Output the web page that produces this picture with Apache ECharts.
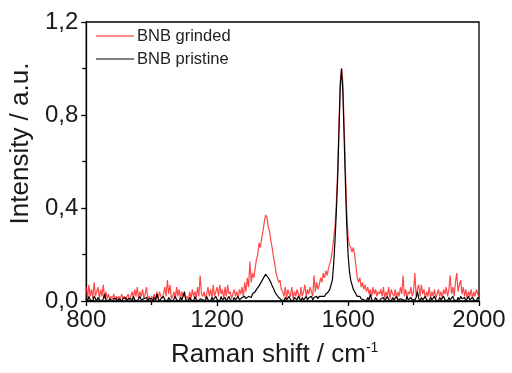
<!DOCTYPE html>
<html><head><meta charset="utf-8">
<script src="https://cdn.jsdelivr.net/npm/echarts@6/dist/echarts.min.js"></script>
<style>html,body{margin:0;padding:0;background:#fff}#c{width:512px;height:373px}</style>
</head><body><div id="c"></div>
<script>
// Wavenumber sampling: 800..2000 cm-1, step 4
const startWavenumber = 800;
const stepWavenumber = 4;
const seriesNames = ['BNB grinded', 'BNB pristine'];
const xTicks = [800, 1200, 1600, 2000];
const yTicks = ['0,0', '0,4', '0,8', '1,2'];

// BNB grinded intensities (rows of 25 points = 100 cm-1)
const grinded = [
  0.06,0.01,0.07,0.02,0.05,0.01,0.08,0.02,0.04,0.06,0.01,0.05,0.02,0.07,0.01,0.04,0.01,0.03,0.005,0.02,0.01,0.03,0.005,0.02,0.01, // 800
  0.02,0.005,0.03,0.01,0.02,0.005,0.01,0.03,0.005,0.02,0.04,0.01,0.05,0.02,0.06,0.01,0.04,0.02,0.05,0.01,0.03,0.06,0.01,0.02,0.005, // 900
  0.02,0.01,0.03,0.005,0.04,0.01,0.04,0.02,0.01,0.03,0.06,0.02,0.09,0.03,0.07,0.01,0.02,0.04,0.01,0.06,0.02,0.05,0.01,0.04,0.02, // 1000
  0.03,0.01,0.02,0.005,0.04,0.01,0.05,0.02,0.04,0.01,0.06,0.02,0.11,0.03,0.02,0.04,0.01,0.03,0.06,0.02,0.05,0.01,0.07,0.02,0.04, // 1100
  0.06,0.02,0.07,0.03,0.05,0.01,0.06,0.02,0.07,0.03,0.04,0.01,0.03,0.05,0.02,0.04,0.01,0.05,0.03,0.06,0.02,0.08,0.04,0.10,0.06, // 1200
  0.17,0.08,0.12,0.10,0.14,0.18,0.20,0.25,0.23,0.27,0.30,0.34,0.37,0.36,0.32,0.30,0.26,0.23,0.19,0.16,0.12,0.10,0.08,0.09,0.05, // 1300
  0.04,0.02,0.06,0.01,0.05,0.03,0.02,0.06,0.01,0.04,0.02,0.05,0.03,0.01,0.06,0.02,0.04,0.07,0.02,0.05,0.03,0.06,0.04,0.02,0.11, // 1400
  0.04,0.08,0.05,0.07,0.10,0.08,0.12,0.10,0.13,0.11,0.14,0.16,0.18,0.22,0.27,0.32,0.42,0.56,0.76,0.94,1.00,0.94,0.76,0.56,0.38, // 1500
  0.28,0.24,0.23,0.21,0.23,0.20,0.15,0.10,0.08,0.10,0.06,0.08,0.05,0.07,0.04,0.06,0.03,0.05,0.02,0.06,0.03,0.05,0.02,0.04,0.03, // 1600
  0.05,0.02,0.06,0.01,0.04,0.02,0.06,0.01,0.05,0.03,0.02,0.05,0.01,0.04,0.02,0.06,0.03,0.11,0.02,0.05,0.01,0.04,0.03,0.06,0.02, // 1700
  0.04,0.12,0.02,0.05,0.07,0.02,0.07,0.03,0.05,0.01,0.04,0.02,0.06,0.01,0.04,0.02,0.05,0.01,0.03,0.05,0.02,0.04,0.01,0.05,0.03, // 1800
  0.06,0.02,0.05,0.11,0.03,0.06,0.02,0.08,0.12,0.04,0.07,0.09,0.03,0.06,0.02,0.05,0.01,0.04,0.02,0.05,0.01,0.04,0.02,0.05,0.03, // 1900
  0.02 // 2000
];

// BNB pristine intensities
const pristine = [
  0.01,0,0.02,0.005,0.01,0,0.02,0.01,0,0.015,0.005,0.01,0,0.01,0.03,0.005,0.01,0,0.01,0.005,0,0.01,0.005,0.01,0, // 800
  0.01,0.005,0,0.01,0.005,0.015,0,0.01,0.005,0.01,0,0.02,0.005,0.01,0,0.01,0.02,0.005,0,0.01,0.005,0.015,0,0.01,0.005, // 900
  0.01,0,0.015,0.005,0.03,0.01,0,0.01,0.005,0.02,0.005,0.01,0,0.015,0.005,0.01,0,0.01,0.02,0.005,0.01,0,0.015,0.005,0.01, // 1000
  0.04,0.005,0.01,0,0.015,0.005,0.01,0,0.02,0.005,0.01,0,0.01,0.015,0.005,0.01,0,0.02,0.005,0.01,0,0.015,0.005,0.01,0.02, // 1100
  0.005,0.01,0,0.02,0.005,0.01,0.015,0,0.01,0.02,0.005,0.01,0,0.015,0.005,0.01,0.02,0.005,0.01,0.015,0.01,0.02,0.01,0.015,0.02, // 1200
  0.02,0.015,0.03,0.025,0.04,0.05,0.045,0.065,0.07,0.085,0.095,0.10,0.115,0.11,0.10,0.09,0.08,0.065,0.055,0.04,0.03,0.025,0.015,0.02,0.005, // 1300
  0.01,0,0.015,0.005,0.01,0.02,0.005,0.01,0,0.015,0.01,0.005,0.02,0.01,0,0.015,0.005,0.01,0.02,0.005,0.015,0.01,0.02,0.005,0.015, // 1400
  0.01,0.02,0.01,0.02,0.015,0.02,0.025,0.02,0.03,0.035,0.04,0.05,0.07,0.09,0.16,0.26,0.38,0.52,0.72,0.92,1.00,0.90,0.70,0.50,0.32, // 1500
  0.20,0.13,0.09,0.07,0.05,0.04,0.03,0.02,0.015,0.02,0.01,0.015,0.005,0.01,0,0.015,0.005,0.03,0.005,0.01,0,0.015,0.005,0.01,0, // 1600
  0.01,0.005,0.015,0,0.01,0.02,0.005,0.01,0,0.015,0.005,0.01,0.02,0.005,0,0.01,0.015,0.005,0.01,0,0.02,0.005,0.01,0.015,0.005, // 1700
  0.01,0.005,0.015,0.04,0.01,0,0.015,0.005,0.01,0.02,0.005,0.01,0,0.015,0.005,0.01,0.02,0.005,0.01,0,0.015,0.005,0.01,0.02,0.005, // 1800
  0.01,0,0.015,0.005,0.01,0.02,0.005,0.01,0,0.015,0.005,0.02,0.01,0.005,0.015,0,0.01,0.02,0.005,0.01,0.015,0.005,0.01,0,0.015, // 1900
  0.01 // 2000
];

const pair = arr => arr.map((v, i) => [startWavenumber + i * stepWavenumber, v]);

const FONT = 'Liberation Sans, Arial, sans-serif';
const RED = '#ff1a1a';
const chart = echarts.init(document.getElementById('c'), null, {renderer: 'canvas'});
chart.setOption({
  animation: false,
  backgroundColor: '#fff',
  grid: {left: 86, right: 33, top: 22, bottom: 71, show: true, borderColor: '#000', borderWidth: 1.3, backgroundColor: 'transparent'},
  legend: {
    orient: 'vertical', left: 91, top: 22, itemWidth: 38, itemHeight: 18, itemGap: 5,
    icon: 'path://M0,0 L38,0 L38,1 L0,1 Z',
    textStyle: {fontFamily: FONT, fontSize: 16.5, color: '#222', lineHeight: 18, padding: [0,0,0,-2]},
    data: seriesNames.map((n, i) => ({name: n, itemStyle: {color: i === 0 ? RED : '#000'}}))
  },
  xAxis: {
    type: 'value', min: xTicks[0], max: xTicks[xTicks.length - 1], interval: 400,
    axisLine: {lineStyle: {color: '#000', width: 1.3}},
    axisTick: {show: true, inside: false, length: 5, lineStyle: {color: '#000', width: 1.3}},
    minorTick: {show: true, splitNumber: 2, length: 4, lineStyle: {color: '#000', width: 1.3}},
    splitLine: {show: false},
    axisLabel: {fontFamily: FONT, fontSize: 24, color: '#1a1a1a', margin: 7, formatter: v => String(v)},
    name: 'Raman shift / cm{sup|-1}', nameLocation: 'middle', nameGap: 40,
    nameTextStyle: {fontFamily: FONT, fontSize: 26, color: '#1a1a1a', padding: [0, 16, 0, 0],
      rich: {sup: {fontFamily: FONT, fontSize: 14, color: '#1a1a1a', verticalAlign: 'top', padding: [0,0,14,0]}}}
  },
  yAxis: {
    type: 'value', min: 0, max: 1.2, interval: 0.4,
    axisLine: {lineStyle: {color: '#000', width: 1.3}},
    axisTick: {show: true, inside: false, length: 5, lineStyle: {color: '#000', width: 1.3}},
    minorTick: {show: true, splitNumber: 2, length: 4, lineStyle: {color: '#000', width: 1.3}},
    splitLine: {show: false},
    axisLabel: {fontFamily: FONT, fontSize: 24, color: '#1a1a1a', margin: 8,
      formatter: v => yTicks[Math.round(v / 0.4)]},
    name: 'Intensity / a.u.', nameLocation: 'middle', nameGap: 49,
    nameTextStyle: {fontFamily: FONT, fontSize: 26, color: '#1a1a1a', padding: [0, 0, 0, 36]}
  },
  series: [
    {name: seriesNames[0], type: 'line', data: pair(grinded), symbol: 'none', showSymbol: false,
     lineStyle: {color: RED, width: 1.2, opacity: 0.8}, itemStyle: {color: RED}},
    {name: seriesNames[1], type: 'line', data: pair(pristine), symbol: 'none', showSymbol: false,
     lineStyle: {color: '#000', width: 1.2}, itemStyle: {color: '#000'}}
  ]
});
</script></body></html>
